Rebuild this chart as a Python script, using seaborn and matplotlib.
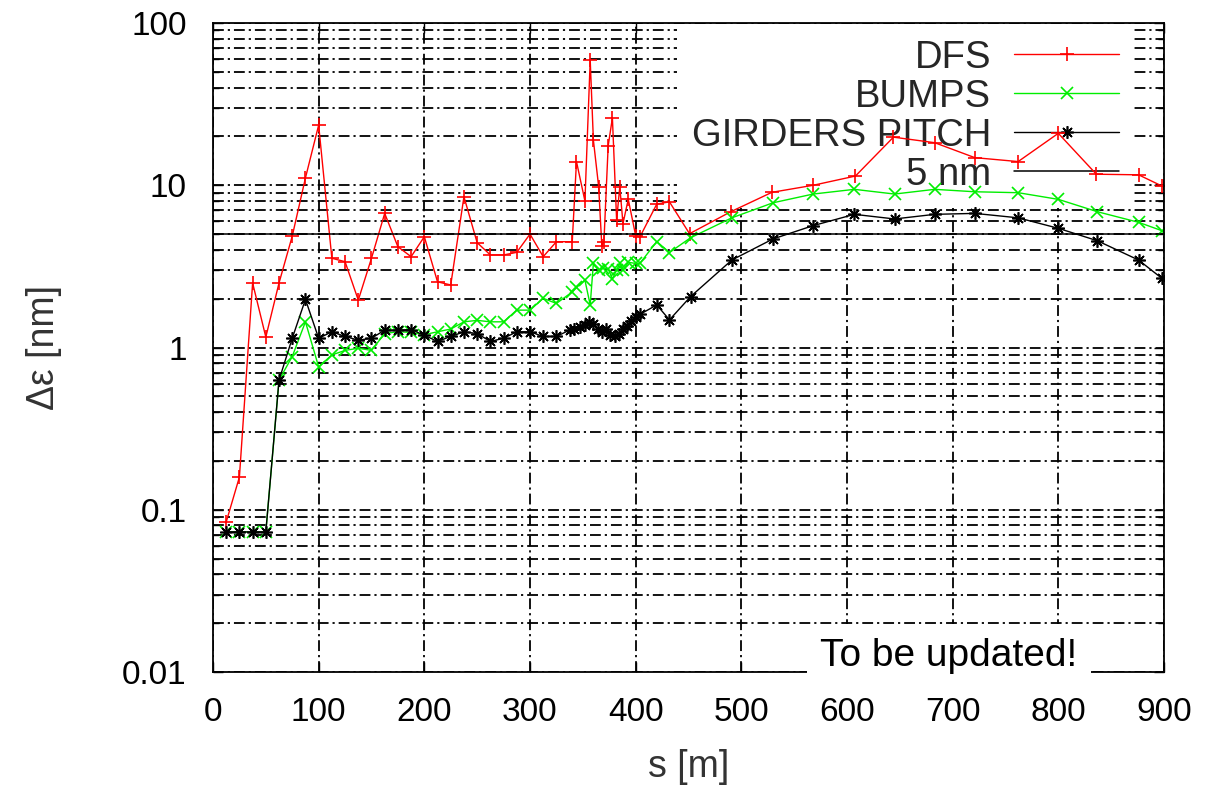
import matplotlib
matplotlib.use("Agg")
import matplotlib.pyplot as plt
import matplotlib.ticker as mticker
import seaborn as sns
import pandas as pd

# Emittance growth along the beamline for the three correction schemes
s_dfs = [12.5, 25, 37.5, 50, 62.5, 75, 87.5, 100, 112.5, 125, 137.5, 150, 162.5, 175,
         187.5, 200, 212.5, 225, 237.5, 250, 262.5, 275, 287.5, 300, 312.5, 325, 340,
         344, 352, 357, 360, 365, 368, 370, 374, 378, 382, 385, 388, 393, 400, 404,
         420, 432, 451, 490, 529, 568, 608, 644, 683, 721, 762, 800, 836, 876, 898]
dfs = [0.084, 0.159, 2.5, 1.16, 2.5, 4.86, 11.1, 23.5, 3.55, 3.38, 1.96, 3.55, 6.71, 4.18,
       3.63, 4.82, 2.54, 2.43, 8.5, 4.43, 3.72, 3.72, 3.86, 5.0, 3.63, 4.49, 4.49,
       14.0, 8.0, 59.0, 19.0, 9.8, 4.2, 4.5, 17.5, 26.0, 6.1, 9.8, 5.8, 8.2, 4.9, 4.8,
       7.66, 7.9, 5.03, 6.87, 9.05, 10.0, 11.4, 19.8, 18.3, 14.8, 14.0, 20.9, 11.7, 11.6, 9.9]

s_bumps = [12.5, 25, 37.5, 50, 62.5, 75, 87.5, 100, 112.5, 125, 137.5, 150, 162.5, 175,
           187.5, 200, 212.5, 225, 237.5, 250, 262.5, 275, 287.5, 300, 312.5, 325, 340,
           344, 352, 357, 360, 365, 369, 374, 378, 382, 385, 388, 393, 400, 404, 420,
           432, 452, 491, 530, 568, 607, 645, 683, 721, 762, 800, 837, 876, 898]
bumps = [0.073, 0.073, 0.073, 0.073, 0.63, 0.88, 1.44, 0.76, 0.90, 0.96, 0.99, 0.96, 1.22,
         1.25, 1.24, 1.20, 1.25, 1.30, 1.44, 1.47, 1.44, 1.44, 1.70, 1.70, 2.01, 1.87, 2.2,
         2.35, 2.6, 1.83, 3.3, 3.0, 3.1, 3.05, 2.65, 3.0, 3.3, 3.0, 3.35, 3.3, 3.3, 4.5,
         3.85, 4.75, 6.3, 7.8, 8.83, 9.44, 8.83, 9.44, 9.12, 9.0, 8.19, 6.87, 5.91, 5.25]

s_girders = [12.5, 25, 37.5, 50, 62.5, 75, 87.5, 100, 112.5, 125, 137.5, 150, 162.5, 175,
             187.5, 200, 212.5, 225, 237.5, 250, 262.5, 275, 287.5, 300, 312.5, 325, 337.5,
             342, 347, 352, 356, 360, 364, 368, 372, 376, 380, 384, 388, 392, 396, 400, 404,
             420, 432, 452, 491, 530, 568, 607, 645, 683, 721, 762, 800, 837, 876, 898]
girders = [0.073, 0.073, 0.073, 0.073, 0.63, 1.14, 1.98, 1.14, 1.25, 1.17, 1.11, 1.14, 1.28,
           1.28, 1.29, 1.19, 1.09, 1.17, 1.25, 1.22, 1.09, 1.14, 1.25, 1.25, 1.17, 1.17, 1.28,
           1.30, 1.33, 1.38, 1.44, 1.40, 1.30, 1.25, 1.30, 1.20, 1.18, 1.22, 1.30, 1.36, 1.45,
           1.55, 1.60, 1.83, 1.48, 2.06, 3.46, 4.67, 5.64, 6.62, 6.20, 6.62, 6.71, 6.30, 5.43,
           4.55, 3.46, 2.67]

target_nm = 5.0
x_ticks = [0, 100, 200, 300, 400, 500, 600, 700, 800, 900]
y_ticks = [0.01, 0.1, 1, 10, 100]
y_tick_labels = ["0.01", "0.1", "1", "10", "100"]

sns.set_theme(style="ticks")
plt.rcParams["font.family"] = ["Liberation Sans", "DejaVu Sans"]

fig = plt.figure(figsize=(12.15, 7.89), dpi=100)
ax = fig.add_axes([0.1753, 0.1483, 0.958 - 0.1753, 0.9708 - 0.1483])

series = [
    ("DFS", s_dfs, dfs, "#ff0000", "+", 10),
    ("BUMPS", s_bumps, bumps, "#00ee00", "x", 8),
    ("GIRDERS PITCH", s_girders, girders, "#000000", (8, 2, 0), 9),
]
for name, xs, ys, color, mk, ms in series:
    df = pd.DataFrame({"s": xs, "emit": ys})
    sns.lineplot(data=df, x="s", y="emit", ax=ax, color=color, lw=1.0,
                 marker=mk, markersize=ms, markeredgewidth=1.2,
                 markeredgecolor=color, markerfacecolor=color,
                 estimator=None, sort=False, label=name)

ax.axhline(target_nm, color="black", lw=1.1, label="5 nm", zorder=2)

ax.set_yscale("log")
ax.set_xlim(0, 900)
ax.set_ylim(0.01, 100)
ax.set_xticks(x_ticks)
ax.set_yticks(y_ticks)
ax.set_yticklabels(y_tick_labels)
ax.yaxis.set_minor_locator(mticker.LogLocator(base=10, subs=range(2, 10)))
ax.yaxis.set_minor_formatter(mticker.NullFormatter())

grid_style = dict(color="black", lw=1.3, linestyle=(0, (6, 2.2, 1.2, 2.2)))
ax.set_axisbelow(True)
ax.grid(which="major", axis="both", **grid_style)
ax.grid(which="minor", axis="y", **grid_style)

for sp in ax.spines.values():
    sp.set_visible(True)
    sp.set_color("black")
    sp.set_linewidth(1.3)

ax.tick_params(which="both", direction="in", top=True, right=True,
               labelsize=24, colors="black")
ax.tick_params(axis="x", which="major", pad=18)
ax.tick_params(axis="y", which="major", pad=19)
ax.tick_params(which="major", length=7, width=1.0)
ax.tick_params(which="minor", length=4, width=1.0)

ax.set_xlabel("s [m]", fontsize=27, color="#333333")
ax.set_ylabel("Δε [nm]", fontsize=27, color="#333333")
ax.xaxis.set_label_coords(0.5, -0.118)
ax.yaxis.set_label_coords(-0.159, 0.5)

leg = ax.legend(loc="upper right", bbox_to_anchor=(0.969, 0.998), borderaxespad=0,
                markerfirst=False, fontsize=27.5, handlelength=2.75, handletextpad=0.6,
                labelspacing=0.08, borderpad=0.4, frameon=True, fancybox=False,
                framealpha=1.0, facecolor="white", edgecolor="none", numpoints=1)
leg.set_zorder(1.5)

fig.text(0.781, 0.1686, "To be updated!", fontsize=28, color="black",
         ha="center", va="center", zorder=10,
         bbox=dict(facecolor="white", edgecolor="none", boxstyle="square,pad=0.35"))

fig.savefig("out.png", dpi=100)
